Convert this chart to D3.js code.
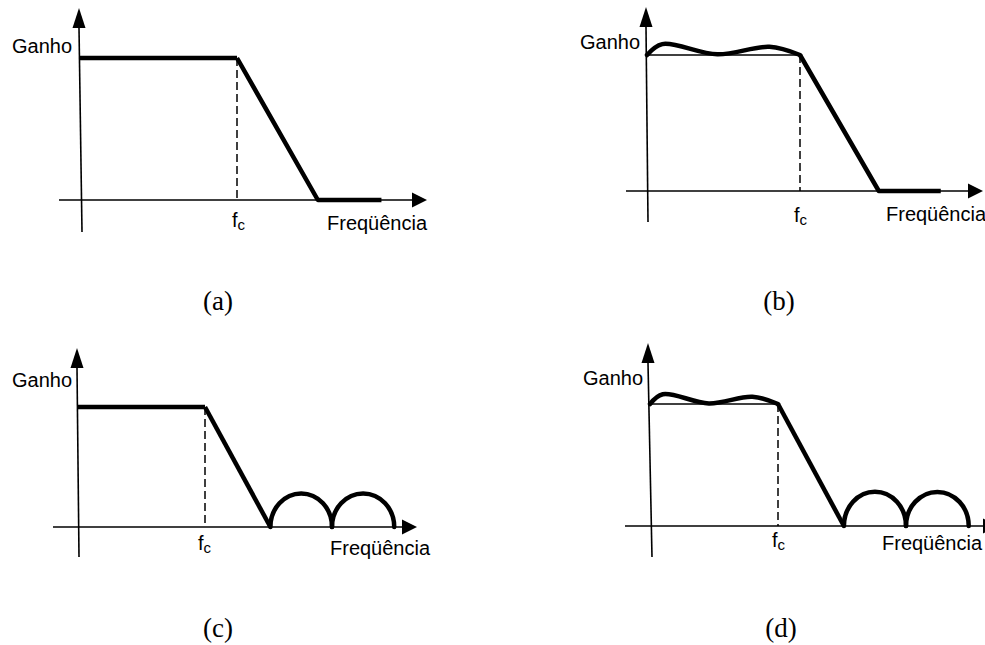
<!DOCTYPE html>
<html>
<head>
<meta charset="utf-8">
<script src="https://cdn.jsdelivr.net/npm/d3@7"></script>
<style>
  html, body { margin: 0; padding: 0; background: #fff; }
  svg { display: block; }
</style>
</head>
<body>
<svg id="chart" width="985" height="645"></svg>
<script>
// Normalised filter responses: frequency in units of the cut-off fc, gain in units of the passband gain.
const panelTags = ["(a)", "(b)", "(c)", "(d)"];
const yAxisLabel = "Ganho";
const xAxisLabel = "Freqüência";
const cutoffLabel = ["f", "c"];

const passband = [[0, 1], [1, 1]];                 // flat passband up to fc
const rolloff = [[1, 1], [1.515, 0]];              // linear transition band
const stopbandFlat = [[1.515, 0], [1.92, 0]];      // ideal flat stopband
const ripple = [[0, 1], [0.1, 1.08], [0.46, 1.005], [0.8, 1.06], [1, 1]]; // passband ripple
const lobeZeros = [1.515, 2.0, 2.49];              // stopband nulls
const lobePeaks = [0.28, 0.28];                    // stopband lobe heights

// Which features each response shows
const hasRipple = [false, true, false, true];
const hasLobes = [false, false, true, true];

// Panel frames (pixel layout)
const frames = [
  { x0: 80,  xf: 237, y0: 200, y1: 58,  axFrom: 59,  axTip: 427, yTip: 8,   yBot: 232, yTopX: 79,  yBotX: 82,
    ganho: [12, 53],   freq: [327, 230], fc: [232, 227], tag: [218, 310] },
  { x0: 647, xf: 800, y0: 191, y1: 55,  axFrom: 626, axTip: 983, yTip: 7,   yBot: 222, yTopX: 646, yBotX: 648,
    ganho: [580, 49],  freq: [886, 221], fc: [794, 222], tag: [779, 310] },
  { x0: 78,  xf: 205, y0: 527, y1: 407, axFrom: 53,  axTip: 417, yTip: 348, yBot: 557, yTopX: 77,  yBotX: 79,
    ganho: [12, 387],  freq: [330, 555], fc: [198, 550], tag: [218, 637] },
  { x0: 650, xf: 778, y0: 526, y1: 404, axFrom: 625, axTip: 998, yTip: 343, yBot: 557, yTopX: 648, yBotX: 652,
    ganho: [583, 385], freq: [882, 550], fc: [772, 547], tag: [781, 637] }
];

const svg = d3.select("#chart");
const sans = "'Liberation Sans', Arial, Helvetica, sans-serif";
const serif = "'Liberation Serif', 'Times New Roman', serif";
const THICK = 4.5, THIN = 1.6;

frames.forEach((fr, i) => {
  const g = svg.append("g");
  const x = d3.scaleLinear().domain([0, 1]).range([fr.x0, fr.xf]);
  const y = d3.scaleLinear().domain([0, 1]).range([fr.y0, fr.y1]);
  const line = d3.line().x(d => x(d[0])).y(d => y(d[1]));

  // Axes with arrow heads
  const xArrowLen = 15, xArrowHalf = 7.5;
  g.append("line")
    .attr("x1", fr.axFrom).attr("y1", fr.y0)
    .attr("x2", fr.axTip - xArrowLen).attr("y2", fr.y0)
    .attr("stroke", "#000").attr("stroke-width", THIN);
  g.append("path")
    .attr("d", `M${fr.axTip},${fr.y0} L${fr.axTip - xArrowLen},${fr.y0 - xArrowHalf} L${fr.axTip - xArrowLen},${fr.y0 + xArrowHalf} Z`)
    .attr("fill", "#000");

  const yArrowLen = 20, yArrowHalf = 6.5;
  g.append("line")
    .attr("x1", fr.yTopX).attr("y1", fr.yTip + yArrowLen)
    .attr("x2", fr.yBotX).attr("y2", fr.yBot)
    .attr("stroke", "#000").attr("stroke-width", THIN);
  g.append("path")
    .attr("d", `M${fr.yTopX},${fr.yTip} L${fr.yTopX - yArrowHalf},${fr.yTip + yArrowLen} L${fr.yTopX + yArrowHalf},${fr.yTip + yArrowLen} Z`)
    .attr("fill", "#000");

  // Dashed cut-off marker
  g.append("line")
    .attr("x1", x(1)).attr("y1", y(1))
    .attr("x2", x(1)).attr("y2", y(0))
    .attr("stroke", "#000").attr("stroke-width", 1.5)
    .attr("stroke-dasharray", "8,4");

  // Passband: thick when ideal, thin reference line under a rippled response
  g.append("path")
    .attr("d", line(passband))
    .attr("fill", "none").attr("stroke", "#000")
    .attr("stroke-width", hasRipple[i] ? THIN : THICK);

  if (hasRipple[i]) {
    g.append("path")
      .attr("d", d3.line().x(d => x(d[0])).y(d => y(d[1])).curve(d3.curveCatmullRom.alpha(0.5))(ripple))
      .attr("fill", "none").attr("stroke", "#000")
      .attr("stroke-width", THICK).attr("stroke-linecap", "round");
  }

  // Transition band (and flat stopband when there are no lobes)
  const tail = hasLobes[i] ? rolloff : rolloff.concat(stopbandFlat.slice(1));
  g.append("path")
    .attr("d", line(tail))
    .attr("fill", "none").attr("stroke", "#000")
    .attr("stroke-width", THICK).attr("stroke-linejoin", "round");

  if (hasLobes[i]) {
    const lobes = lobePeaks.map((h, k) => ({ a: lobeZeros[k], b: lobeZeros[k + 1], h }));
    g.selectAll("path.lobe").data(lobes).join("path")
      .attr("class", "lobe")
      .attr("d", d => {
        const xa = x(d.a), xb = x(d.b);
        const rx = (xb - xa) / 2, ry = y(0) - y(d.h);
        return `M${xa},${y(0)} A${rx},${ry} 0 0 1 ${xb},${y(0)}`;
      })
      .attr("fill", "none").attr("stroke", "#000")
      .attr("stroke-width", THICK).attr("stroke-linecap", "round");
  }

  // Labels
  g.append("text")
    .attr("x", fr.ganho[0]).attr("y", fr.ganho[1])
    .attr("font-family", sans).attr("font-size", 20)
    .text(yAxisLabel);
  g.append("text")
    .attr("x", fr.freq[0]).attr("y", fr.freq[1])
    .attr("font-family", sans).attr("font-size", 20)
    .text(xAxisLabel);
  const fcText = g.append("text")
    .attr("x", fr.fc[0]).attr("y", fr.fc[1])
    .attr("font-family", sans).attr("font-size", 20);
  fcText.append("tspan").text(cutoffLabel[0]);
  fcText.append("tspan").attr("font-size", 15).attr("dy", 3).text(cutoffLabel[1]);

  g.append("text")
    .attr("x", fr.tag[0]).attr("y", fr.tag[1])
    .attr("text-anchor", "middle")
    .attr("font-family", serif).attr("font-size", 27)
    .text(panelTags[i]);
});
</script>
</body>
</html>
